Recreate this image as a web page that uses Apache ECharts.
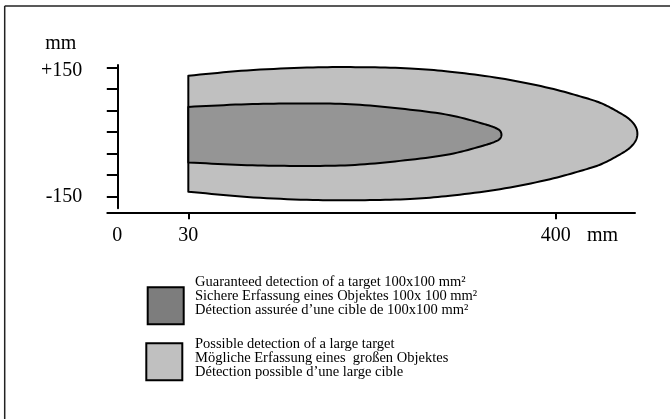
<!DOCTYPE html>
<html>
<head>
<meta charset="utf-8">
<script src="https://cdn.jsdelivr.net/npm/echarts@6/dist/echarts.min.js"></script>
<style>html,body{margin:0;padding:0;background:#fff;}#chart{width:670px;height:419px;}</style>
</head>
<body>
<div id="chart"></div>
<script>
// ---- data (mm) ----
// outline of the "possible detection" zone: from top-left corner, round the tip, to bottom-left corner
const outerX = [30, 89.1, 155.6, 202.9, 253.3, 293.5, 343.9, 394.3, 427.5, 444.6, 461.7, 474.8, 480.8, 482.3,
                480.8, 474.8, 461.7, 444.6, 427.5, 394.3, 343.9, 293.5, 253.3, 202.9, 155.6, 89.1, 30];
const outerY = [131.4, 143.7, 150.7, 151.2, 148.4, 140.7, 125.6, 102.3, 81.4, 68.6, 48.8, 29.1, 11.6, -3.5,
                -18.6, -36.1, -55.8, -75.6, -88.4, -109.3, -132.6, -147.7, -155.4, -158.2, -157.7, -150.7, -138.4];
// outline of the "guaranteed detection" zone
const innerX = [30, 89.1, 142.5, 192.8, 243.2, 293.5, 326.8, 338.9, 343.9, 345.4,
                343.9, 338.9, 326.8, 293.5, 243.2, 192.8, 142.5, 89.1, 30];
const innerY = [58.9, 65.1, 66.8, 65.1, 55.1, 39.5, 19.8, 10.5, 3.5, -5.8,
                -15.1, -22.1, -31.4, -51.1, -66.7, -76.7, -78.4, -76.7, -70.5];

const xTicks = [30, 400];
const yTicks = [-150, -100, -50, 0, 50, 100, 150];
const yLabels = [-150, 150];
const originLabel = '0';

const legendTexts = {
  guaranteed: 'Guaranteed detection of a target 100x100 mm²\nSichere Erfassung eines Objektes 100x 100 mm²\nDétection assurée d’une cible de 100x100 mm²',
  possible: 'Possible detection of a large target\nMögliche Erfassung eines  großen Objektes\nDétection possible d’une large cible'
};

// ---- layout constants ----
const X_MIN = -51.6, X_MAX = 479.9;   // x axis extent (diagram is not to scale left of 30)
const Y_AXIS_AT = -41.5;              // where the vertical axis crosses, labelled "0"
const FONT = '"Liberation Serif", "Times New Roman", serif';

// centripetal Catmull-Rom through the projected outline points (rendering only)
function smoothOutline(pts, seg) {
  const n = pts.length;
  const P = [[2 * pts[0][0] - pts[1][0], 2 * pts[0][1] - pts[1][1]]].concat(pts,
            [[2 * pts[n - 1][0] - pts[n - 2][0], 2 * pts[n - 1][1] - pts[n - 2][1]]]);
  const out = [pts[0]];
  const lerp = (a, b, ta, tb, t) => [(tb - t) / (tb - ta) * a[0] + (t - ta) / (tb - ta) * b[0],
                                     (tb - t) / (tb - ta) * a[1] + (t - ta) / (tb - ta) * b[1]];
  const d = (a, b) => Math.max(Math.sqrt(Math.hypot(b[0] - a[0], b[1] - a[1])), 1e-4);
  for (let i = 1; i < P.length - 2; i++) {
    const p0 = P[i - 1], p1 = P[i], p2 = P[i + 1], p3 = P[i + 2];
    const t0 = 0, t1 = t0 + d(p0, p1), t2 = t1 + d(p1, p2), t3 = t2 + d(p2, p3);
    for (let s = 1; s <= seg; s++) {
      const t = t1 + (t2 - t1) * s / seg;
      const A1 = lerp(p0, p1, t0, t1, t), A2 = lerp(p1, p2, t1, t2, t), A3 = lerp(p2, p3, t2, t3, t);
      const B1 = lerp(A1, A2, t0, t2, t), B2 = lerp(A2, A3, t1, t3, t);
      out.push(lerp(B1, B2, t1, t2, t));
    }
  }
  return out;
}

function zoneSeries(name, xs, ys, fill) {
  return {
    type: 'custom',
    name: name,
    coordinateSystem: 'cartesian2d',
    clip: false,
    silent: true,
    itemStyle: { color: fill },
    data: [[xs[0], ys[0]]],
    renderItem: function (params, api) {
      const pix = xs.map((x, i) => api.coord([x, ys[i]]));
      return {
        type: 'polygon',
        shape: { points: smoothOutline(pix, 10) },
        style: { fill: fill, stroke: '#000', lineWidth: 2, lineJoin: 'round' }
      };
    }
  };
}

function legendBlock(name, left, top, swatch, spacer, padLeft) {
  return {
    orient: 'vertical', left: left, top: top, padding: 5, selectedMode: false,
    itemWidth: 36, itemHeight: 37, icon: 'rect',
    data: [{ name: name, itemStyle: { color: swatch, borderColor: '#000', borderWidth: 2 } }],
    formatter: n => '{t|' + legendTexts[n] + '}\n{g| }',
    textStyle: {
      color: '#000', fontFamily: FONT, fontSize: 14.5, padding: [0, 0, 0, padLeft],
      rich: {
        t: { color: '#000', fontFamily: FONT, fontSize: 14.5, lineHeight: 14 },
        g: { fontSize: 1, lineHeight: spacer }
      }
    }
  };
}

const chart = echarts.init(document.getElementById('chart'), null, { renderer: 'canvas' });
chart.setOption({
  animation: false,
  backgroundColor: '#fff',
  grid: { left: 107.3, right: 35, top: 65, bottom: 210.7 },
  xAxis: {
    type: 'value', min: X_MIN, max: X_MAX,
    offset: 4,
    splitLine: { show: false },
    axisLine: { onZero: false, lineStyle: { color: '#000', width: 2 } },
    axisTick: { customValues: xTicks, length: 7, lineStyle: { color: '#000', width: 2 } },
    axisLabel: {
      customValues: [Y_AXIS_AT].concat(xTicks),
      formatter: v => (v === Y_AXIS_AT ? originLabel : String(v)),
      margin: 13, color: '#000', fontFamily: FONT, fontSize: 20
    },
    name: 'mm', nameLocation: 'end', nameGap: -48,
    nameTextStyle: { color: '#000', fontFamily: FONT, fontSize: 20, align: 'left', verticalAlign: 'top', padding: [13, 0, 0, 0] }
  },
  yAxis: {
    type: 'value', min: -177, max: 156.3,
    offset: -10,
    splitLine: { show: false },
    axisLine: { onZero: false, lineStyle: { color: '#000', width: 2 } },
    axisTick: { customValues: yTicks, length: 10.5, lineStyle: { color: '#000', width: 2 } },
    axisLabel: {
      customValues: yLabels,
      formatter: v => (v > 0 ? '{p|+' + v + '}' : String(v)),
      margin: 35, color: '#000', fontFamily: FONT, fontSize: 20,
      rich: { p: { color: '#000', fontFamily: FONT, fontSize: 20, padding: [6, 0, 0, 0] } }
    },
    name: 'mm', nameLocation: 'end', nameGap: 11,
    nameTextStyle: { color: '#000', fontFamily: FONT, fontSize: 20, align: 'right', verticalAlign: 'bottom', padding: [0, 41, 0, 0] }
  },
  legend: [
    legendBlock('guaranteed', 141.7, 269.2, '#7d7d7d', 20, 6.3),
    legendBlock('possible', 140.3, 331.7, '#c0c0c0', 7, 7.7)
  ],
  graphic: [
    { type: 'line', shape: { x1: 4.7, y1: 6, x2: 670, y2: 6 }, style: { stroke: '#222', lineWidth: 1.5 }, silent: true },
    { type: 'line', shape: { x1: 4.7, y1: 6, x2: 4.7, y2: 419 }, style: { stroke: '#222', lineWidth: 1.5 }, silent: true }
  ],
  series: [
    zoneSeries('possible', outerX, outerY, '#c0c0c0'),
    zoneSeries('guaranteed', innerX, innerY, '#959595')
  ]
});
</script>
</body>
</html>
